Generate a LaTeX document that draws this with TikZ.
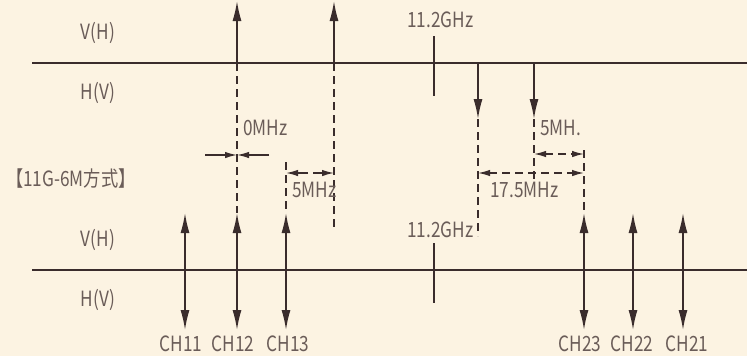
\documentclass[tikz,border=0pt]{standalone}
\usepackage{fontspec}
\setmainfont[FakeStretch=0.82]{Noto Sans CJK JP}
\usetikzlibrary{arrows.meta}
\definecolor{bgc}{HTML}{FCF3E2}
\definecolor{linec}{HTML}{3A2C2C}
\definecolor{textc}{HTML}{6A5C58}
\tikzset{
  axis/.style={draw=linec, line width=1.5pt},
  sig/.style={draw=linec, line width=1.6pt, -{Latex[length=20pt,width=9pt]}},
  dsig/.style={draw=linec, line width=1.6pt, {Latex[length=20pt,width=9pt]}-{Latex[length=20pt,width=9pt]}},
  guide/.style={draw=linec, line width=1.4pt, dash pattern=on 8pt off 5pt},
  dim/.style={draw=linec, line width=1.4pt, -{Latex[length=12pt,width=6.5pt]}},
  ddim/.style={draw=linec, line width=1.4pt, dash pattern=on 8pt off 5pt, {Latex[length=12pt,width=6.5pt]}-{Latex[length=12pt,width=6.5pt]}},
  lbl/.style={text=textc, font=\fontsize{21}{23}\selectfont, inner sep=0pt},
  tick/.style={draw=linec, line width=1.4pt}
}
\begin{document}
\begin{tikzpicture}[x=1pt,y=-1pt]
\fill[bgc] (0,0) rectangle (747,356);
\useasboundingbox (0,0) rectangle (747,356);

% axes
\coordinate (t0) at (32,63); \coordinate (t1) at (747,63);
\coordinate (b0) at (32,270); \coordinate (b1) at (747,270);
\draw[axis] (t0) -- (t1);
\draw[axis] (b0) -- (b1);

% left labels
\node[lbl] (vh1) at (98,33) {V(H)};
\node[lbl] (hv1) at (98,93) {H(V)};
\node[lbl] (vh2) at (98,240) {V(H)};
\node[lbl] (hv2) at (98,300) {H(V)};
\node[lbl, anchor=west] (title) at (6,179) {【11G-6M方式】};

% centre ticks
\coordinate (tk1a) at (434,36); \coordinate (tk1b) at (434,96);
\draw[tick] (tk1a) -- (tk1b);
\node[lbl, anchor=west] (g1) at (407,20) {11.2GHz};
\coordinate (tk2a) at (434,243); \coordinate (tk2b) at (434,303);
\draw[tick] (tk2a) -- (tk2b);
\node[lbl, anchor=west] (g2) at (407,230) {11.2GHz};

% top carriers
\coordinate (u1a) at (237,63); \coordinate (u1b) at (237,1);
\coordinate (u2a) at (334,63); \coordinate (u2b) at (334,1);
\draw[sig] (u1a) -- (u1b);
\draw[sig] (u2a) -- (u2b);
\coordinate (d1a) at (478,63); \coordinate (d1b) at (478,119);
\coordinate (d2a) at (534,63); \coordinate (d2b) at (534,119);
\draw[sig] (d1a) -- (d1b);
\draw[sig] (d2a) -- (d2b);

% bottom double arrows
\foreach \n/\x in {c11/185, c12/237, c13/286, c23/584, c22/633, c21/683}{
  \coordinate (\n a) at (\x,213);
  \coordinate (\n b) at (\x,330);
  \draw[dsig] (\n a) -- (\n b);
}
\node[lbl] (l11) at (181,344) {CH11};
\node[lbl] (l12) at (233,344) {CH12};
\node[lbl] (l13) at (288,344) {CH13};
\node[lbl] (l23) at (580,344) {CH23};
\node[lbl] (l22) at (632,344) {CH22};
\node[lbl] (l21) at (687,344) {CH21};

% guide lines
\draw[guide] (u1a) -- (c12a);
\coordinate (g334) at (334,229);
\draw[guide] (u2a) -- (g334);
\coordinate (g287) at (286,162);
\draw[guide] (g287) -- (c13a);
\coordinate (g478) at (478,236);
\draw[guide] (d1b) -- (g478);
\coordinate (g534) at (534,181);
\draw[guide] (d2b) -- (g534);
\coordinate (g583) at (584,150);
\draw[guide] (g583) -- (c23a);

% 0MHz
\node[lbl, anchor=west] (m0) at (243,128) {0MHz};
\coordinate (z0) at (205,155); \coordinate (zc) at (237,155); \coordinate (z1) at (269,155);
\draw[dim] (z0) -- (zc);
\draw[dim] (z1) -- (zc);

% 5MHz left
\coordinate (f0) at (286,173); \coordinate (fm0) at (308,173);
\coordinate (fm1) at (313,173); \coordinate (f1) at (334,173);
\draw[dim] (fm0) -- (f0);
\draw[dim] (fm1) -- (f1);
\node[lbl, anchor=west] (m5a) at (292,190) {5MHz};

% 5MH. right
\coordinate (h0) at (534,154); \coordinate (h1) at (584,154);
\draw[ddim] (h0) -- (h1);
\node[lbl, anchor=west] (m5b) at (540,128) {5MH.};

% 17.5MHz
\coordinate (s0) at (478,173); \coordinate (s1) at (584,173);
\draw[ddim] (s0) -- (s1);
\node[lbl, anchor=west] (m175) at (490,190) {17.5MHz};
\end{tikzpicture}
\end{document}
